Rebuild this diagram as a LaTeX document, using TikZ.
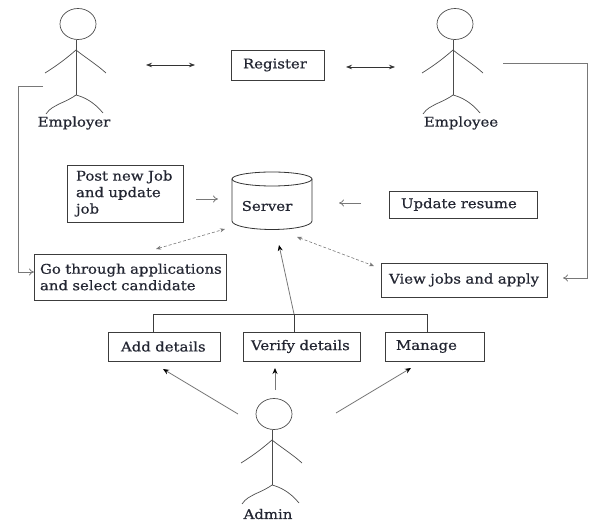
\documentclass[tikz,border=0pt]{standalone}
\usepackage{fontspec}
\setmainfont{DejaVu Serif}[FakeStretch=1.12,FakeBold=0.6]
\usetikzlibrary{arrows.meta,shapes.geometric}
\definecolor{inkc}{RGB}{35,38,50}
\definecolor{linec}{RGB}{60,60,60}
\definecolor{soft}{RGB}{120,120,120}
\tikzset{
  x=1pt,y=-1pt,
  txt/.style={font=\fontsize{13.3}{16.5}\selectfont,text=inkc},
  pad/.style={execute at begin node={\leftskip=#1pt\relax\rightskip=0pt plus 1fil\parindent=0pt\relax}},
  boxn/.style={draw=linec,line width=0.8pt,txt,inner sep=0pt,outer sep=0pt},
  limb/.style={draw=black!70,line width=0.7pt},
  headn/.style={ellipse,draw=black!70,line width=0.7pt,minimum width=36pt,minimum height=31pt,inner sep=0pt},
  solidlink/.style={draw=black!80,line width=0.7pt,{Stealth[length=6pt,width=4.5pt]}-{Stealth[length=6pt,width=4.5pt]}},
  openlink/.style={draw=soft,line width=0.8pt,-{To[length=5pt,width=7pt]}},
  dashlink/.style={draw=soft,line width=0.6pt,densely dashed,{Stealth[length=5pt,width=4pt]}-{Stealth[length=5pt,width=4pt]}},
  uplink/.style={draw=soft,line width=0.8pt,-{Stealth[length=6pt,width=5pt,color=black]}},
  treelink/.style={draw=linec,line width=0.8pt},
  cyl/.style={draw=black!80,line width=0.8pt},
}
% name, x of spine, y of head centre
\newcommand{\stickfig}[3]{%
  \node[headn] (#1) at (#2+2,#3) {};
  \begin{scope}[shift={(#2,#3)}]
    \draw[limb] (0,16) -- (0,71);
    \draw[limb] (-31,49) .. controls (-18,41) and (-8,33) .. (0,26) .. controls (10,34) and (20,40) .. (30,49);
    \draw[limb] (-30,90) .. controls (-26,84) and (-22,83) .. (-17,80) .. controls (-10,77) and (-4,74) .. (0,71) .. controls (8,73) and (18,78) .. (27,89);
  \end{scope}
}
\newcommand{\boxn}[7]{% name x1 y1 x2 y2 pad text
  \pgfmathsetmacro{\bw}{#4-#2}\pgfmathsetmacro{\bh}{#5-#3}
  \node[boxn,pad=#6,text width=\bw pt,minimum height=\bh pt] (#1) at ({(#2+#4)/2},{(#3+#5)/2}) {#7};
}
\begin{document}
\begin{tikzpicture}
\useasboundingbox (0,0) rectangle (589,521);
\stickfig{emp}{76}{24}
\stickfig{see}{453}{24}
\stickfig{adm}{272}{414}
\node[txt] (emplabel) at (74,123) {Employer};
\node[txt] (seelabel) at (461,123) {Employee};
\node[txt] (admlabel) at (268,514) {Admin};

\boxn{register}{231}{50}{324}{80}{12}{Register}
\boxn{post}{67}{165}{183}{222}{9}{Post new Job\\and update\\job}
\boxn{go}{34}{254}{226}{300}{6}{Go through applications\\and select candidate}
\boxn{update}{389}{191}{537}{218}{12}{Update resume}
\boxn{view}{381}{263}{547}{297}{8}{View jobs and apply}
\boxn{add}{108}{332}{220}{361}{13}{Add details}
\boxn{verify}{243}{332}{360}{361}{8}{Verify details}
\boxn{manage}{385}{332}{484}{361}{11}{Manage}

\draw[cyl] (232,179) arc[start angle=180,end angle=540,x radius=40,y radius=7];
\draw[cyl] (232,179) -- (232,221) arc[start angle=180,end angle=360,x radius=40,y radius=-8.5] -- (312,179);
\node[txt] (serverlabel) at (267,206) {Server};

% free ends of the connectors
\coordinate (a1) at (146,65); \coordinate (a2) at (195,65);
\coordinate (b1) at (346,67); \coordinate (b2) at (395,67);
\coordinate (c1) at (43,86);  \coordinate (c2) at (18,86);  \coordinate (c3) at (18,272);
\coordinate (d1) at (503,63); \coordinate (d2) at (587,63); \coordinate (d3) at (587,278); \coordinate (d4) at (563,278);
\coordinate (e1) at (196,199); \coordinate (e2) at (218,199);
\coordinate (f1) at (361,203); \coordinate (f2) at (339,203);
\coordinate (g1) at (156,249); \coordinate (g2) at (225,229);
\coordinate (h1) at (297,237); \coordinate (h2) at (374,266);
\coordinate (tl) at (153,314); \coordinate (tm) at (294,314); \coordinate (tr) at (427,314);
\coordinate (up) at (279,245);
\coordinate (i1) at (238,414); \coordinate (i2) at (163,369);
\coordinate (j1) at (275,390); \coordinate (j2) at (275,368);
\coordinate (k1) at (336,413); \coordinate (k2) at (411,368);

\draw[solidlink] (a1) -- (a2);
\draw[solidlink] (b1) -- (b2);
\draw[openlink] (c1) -- (c2) -- (c3) -- (go.west |- c3);
\draw[openlink] (d1) -- (d2) -- (d3) -- (d4);
\draw[openlink] (e1) -- (e2);
\draw[openlink] (f1) -- (f2);
\draw[dashlink] (g1) -- (g2);
\draw[dashlink] (h1) -- (h2);
\draw[treelink] (tl |- add.north) -- (tl) -- (tr) -- (tr |- manage.north);
\draw[treelink] (tm) -- (tm |- verify.north);
\draw[uplink] (tm) -- (up);
\draw[uplink] (i1) -- (i2);
\draw[uplink] (j1) -- (j2);
\draw[uplink] (k1) -- (k2);
\end{tikzpicture}
\end{document}
